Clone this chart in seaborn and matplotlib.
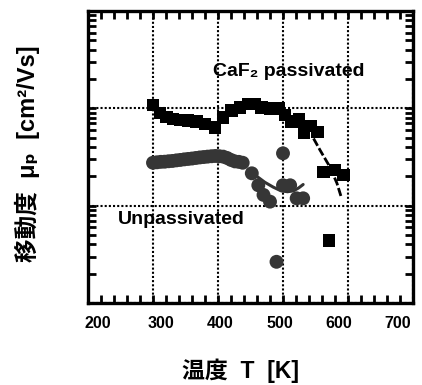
import matplotlib
matplotlib.use("Agg")
import matplotlib.pyplot as plt
import seaborn as sns
import pandas as pd
from matplotlib.ticker import MultipleLocator, LogLocator, NullFormatter, FixedLocator
from matplotlib.transforms import ScaledTranslation

# ---- data (mobility in arbitrary units, log scale) ----
sq_T = [300, 311, 321, 331, 342, 354, 367, 380, 395, 408, 421, 434, 447, 457, 467,
        480, 493, 503, 513, 525, 532, 542, 553, 562, 580, 593, 571]
sq_mu = [108, 89, 82, 77.7, 75.9, 74.7, 72.9, 69, 63.8, 80.9, 94.6, 102.5, 111, 111, 102.5,
         100, 100, 85.5, 72.9, 77, 56.2, 65.9, 57.5, 22.3, 23.2, 20.7, 4.4]

ci_T = [300, 306, 312, 318, 324, 330, 336, 342, 348, 354, 360, 366, 372, 378, 384,
        390, 396, 402, 408, 414, 420, 426, 432, 438, 452, 462, 470, 480, 500, 500,
        511, 521, 531, 490]
ci_mu = [27.6, 27.9, 28.2, 28.3, 28.6, 28.8, 29.2, 29.5, 29.9, 30.2, 30.5, 30.9, 31.3, 31.6, 31.9,
         32.2, 32.4, 32.2, 31.9, 30.9, 29.5, 28.5, 28.2, 27.6, 21.5, 16.2, 12.9, 11.0, 34.5, 16.2,
         16.2, 11.9, 11.9, 2.65]

fit_ci_T = [452, 462, 472, 485, 497, 507, 516, 524, 531]
fit_ci_mu = [21.8, 19.5, 17.4, 15.5, 14.2, 13.9, 14.2, 15.2, 16.5]

fit_sq_T = [547, 557, 572, 583, 590]
fit_sq_mu = [49, 37.2, 25.1, 17, 12]

xticks = [200, 300, 400, 500, 600, 700]
xticklabels = ["200", "300", "400", "500", "600", "700"]

sns.set_style("ticks")
fam = ["Liberation Sans", "DejaVu Sans", "Noto Sans CJK JP"]
plt.rcParams["font.family"] = fam
plt.rcParams["font.weight"] = "bold"
plt.rcParams["text.color"] = "black"
plt.rcParams["axes.labelcolor"] = "black"
plt.rcParams["xtick.color"] = "black"
plt.rcParams["ytick.color"] = "black"

fig = plt.figure(figsize=(4.22, 3.85), dpi=100)
ax = fig.add_axes([88/422, (385-303)/385, 325/422, 292/385])

df_sq = pd.DataFrame({"T": sq_T, "mu": sq_mu})
df_ci = pd.DataFrame({"T": ci_T, "mu": ci_mu})
df_fc = pd.DataFrame({"T": fit_ci_T, "mu": fit_ci_mu})
df_fs = pd.DataFrame({"T": fit_sq_T, "mu": fit_sq_mu})

sns.lineplot(data=df_fc, x="T", y="mu", ax=ax, color="#333333", lw=2.2, zorder=4,
             sort=False)
sns.lineplot(data=df_fs, x="T", y="mu", ax=ax, color="black", lw=2.0, zorder=4,
             sort=False, dashes=False)
ax.lines[-1].set_dashes([3, 1])
sns.scatterplot(data=df_ci, x="T", y="mu", ax=ax, marker="o", s=100, color="#363636",
                edgecolor="none", linewidth=0, zorder=5)
sns.scatterplot(data=df_sq, x="T", y="mu", ax=ax, marker="s", s=80, color="black",
                edgecolor="none", linewidth=0, zorder=6)

ax.set_yscale("log")
ax.set_xlim(200, 700)
ax.set_ylim(1, 1000)

ax.xaxis.set_major_locator(FixedLocator(xticks))
ax.set_xticklabels(xticklabels)
ax.xaxis.set_minor_locator(MultipleLocator(20))
ax.yaxis.set_major_locator(LogLocator(base=10, numticks=10))
ax.yaxis.set_minor_locator(LogLocator(base=10, subs=range(2, 10), numticks=20))
ax.yaxis.set_major_formatter(NullFormatter())
ax.yaxis.set_minor_formatter(NullFormatter())

ax.tick_params(which="both", direction="in", top=True, right=True, left=True, bottom=True,
               length=6, width=2.0, color="black")
ax.tick_params(axis="x", which="major", labelsize=11.5, pad=9, labelcolor="black")

# reference tick labels are slightly compressed toward the centre
label_shift_px = [10, 8, 2, -3.5, -9, -15]
for lab, dx in zip(ax.get_xticklabels(), label_shift_px):
    lab.set_fontweight("bold")
    lab.set_transform(lab.get_transform() + ScaledTranslation(dx / 100, 0, fig.dpi_scale_trans))

for s in ax.spines.values():
    s.set_linewidth(2.4)
    s.set_color("black")

ax.grid(which="major", color="black", linestyle=(0, (1, 1)), linewidth=1.5, zorder=1)
ax.set_axisbelow(True)

ax.text(392, 214, "CaF₂ passivated", fontsize=14, fontweight="bold", color="black",
        ha="left", va="baseline", zorder=7, family=fam)
ax.text(246, 6.5, "Unpassivated", fontsize=14, fontweight="bold", color="black",
        ha="left", va="baseline", zorder=7, family=fam)

ax.set_xlabel("温度  T  [K]", fontsize=16.5, fontweight="bold", family=fam, color="black")
ax.set_ylabel("移動度  μₚ  [cm²/Vs]", fontsize=17, fontweight="bold", family=fam, color="black")
ax.xaxis.set_label_coords(0.468, -0.19)
ax.yaxis.set_label_coords(-0.148, 0.51)

fig.savefig("out.png", dpi=100)
